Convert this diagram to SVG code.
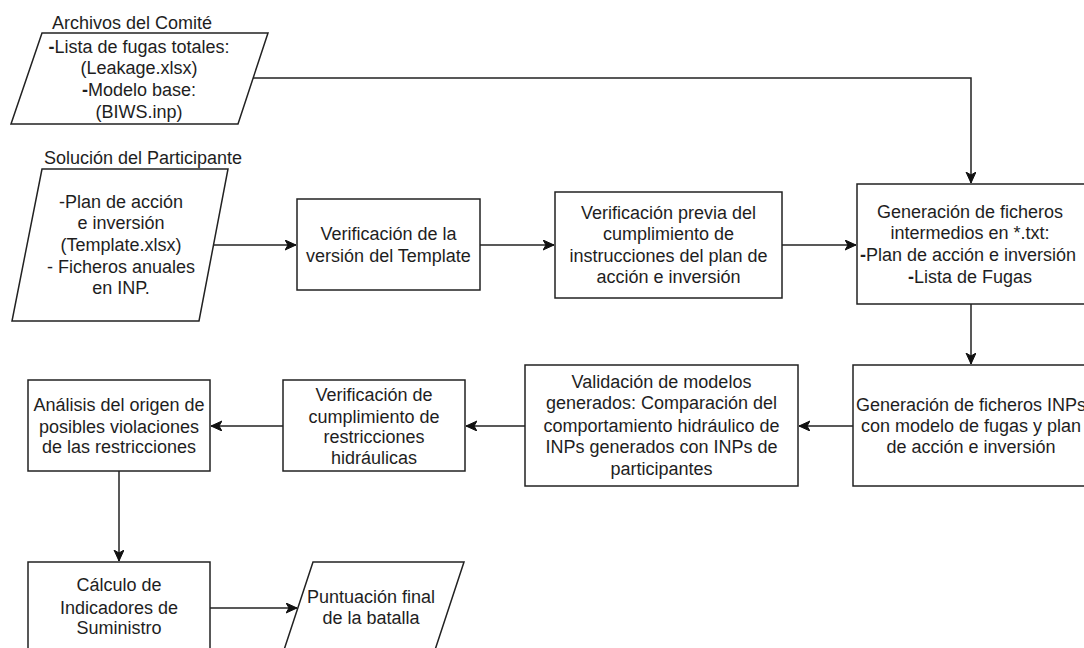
<svg xmlns="http://www.w3.org/2000/svg" width="1084" height="648" viewBox="0 0 1084 648">
<style>
.s{fill:#fff;stroke:#222;stroke-width:1.5}
.t{font-family:"Liberation Sans",Arial,sans-serif;font-size:18px;fill:#1e1e1e;text-anchor:middle}
.c{fill:none;stroke:#222;stroke-width:1.5}
.b{font-weight:bold}
</style>
<defs>
<marker id="ah" markerUnits="userSpaceOnUse" markerWidth="14" markerHeight="12" refX="11" refY="5" orient="auto">
<path d="M0,0 L11,5 L0,10 L3,5 Z" fill="#111" stroke="#111" stroke-width="1"/>
</marker>
</defs>
<rect width="1084" height="648" fill="#fff"/>
<g id="connectors">
<path class="c" d="M253,78 H971 V183" marker-end="url(#ah)"/>
<path class="c" d="M214,245 H296" marker-end="url(#ah)"/>
<path class="c" d="M480,245 H554" marker-end="url(#ah)"/>
<path class="c" d="M782,245 H856" marker-end="url(#ah)"/>
<path class="c" d="M971,304 V364" marker-end="url(#ah)"/>
<path class="c" d="M853,426 H799" marker-end="url(#ah)"/>
<path class="c" d="M525,426 H466" marker-end="url(#ah)"/>
<path class="c" d="M283,426 H211" marker-end="url(#ah)"/>
<path class="c" d="M119,471 V561" marker-end="url(#ah)"/>
<path class="c" d="M210,608 H297" marker-end="url(#ah)"/>
</g>
<g id="archivos">
<text class="t" x="132" y="29">Archivos del Comité</text>
<polygon class="s" points="42,33 268,33 238,124 11,124"/>
<text class="t" x="139" y="53"><tspan class="b">-</tspan>Lista de fugas totales:</text>
<text class="t" x="139" y="74">(Leakage.xlsx)</text>
<text class="t" x="139" y="96"><tspan class="b">-</tspan>Modelo base:</text>
<text class="t" x="139" y="118">(BIWS.inp)</text>
</g>
<g id="solucion">
<text class="t" x="143" y="164">Solución del Participante</text>
<polygon class="s" points="42,169 228,169 199,321 12,321"/>
<text class="t" x="121" y="208">-Plan de acción</text>
<text class="t" x="121" y="229">e inversión</text>
<text class="t" x="121" y="251">(Template.xlsx)</text>
<text class="t" x="121" y="273">- Ficheros anuales</text>
<text class="t" x="121" y="294">en INP.</text>
</g>
<g id="verif-template">
<rect class="s" x="297" y="199" width="183" height="91"/>
<text class="t" x="388.5" y="240">Verificación de la</text>
<text class="t" x="388.5" y="262">versión del Template</text>
</g>
<g id="verif-previa">
<rect class="s" x="555" y="192" width="227" height="106"/>
<text class="t" x="668.5" y="219">Verificación previa del</text>
<text class="t" x="668.5" y="240">cumplimiento de</text>
<text class="t" x="668.5" y="262">instrucciones del plan de</text>
<text class="t" x="668.5" y="283">acción e inversión</text>
</g>
<g id="generacion-txt">
<rect class="s" x="857" y="184" width="228" height="120"/>
<text class="t" x="970" y="218">Generación de ficheros</text>
<text class="t" x="970" y="239">intermedios en *.txt:</text>
<text class="t" x="968" y="261"><tspan class="b">-</tspan>Plan de acción e inversión</text>
<text class="t" x="970" y="283"><tspan class="b">-</tspan>Lista de Fugas</text>
</g>
<g id="generacion-inp">
<rect class="s" x="853" y="365" width="236" height="121"/>
<text class="t" x="971" y="411">Generación de ficheros INPs</text>
<text class="t" x="971" y="432">con modelo de fugas y plan</text>
<text class="t" x="971" y="453">de acción e inversión</text>
</g>
<g id="validacion">
<rect class="s" x="525" y="365" width="273" height="121"/>
<text class="t" x="661.5" y="388">Validación de modelos</text>
<text class="t" x="661.5" y="409">generados: Comparación del</text>
<text class="t" x="661.5" y="432">comportamiento hidráulico de</text>
<text class="t" x="661.5" y="453">INPs generados con INPs de</text>
<text class="t" x="661.5" y="475">participantes</text>
</g>
<g id="verif-restricciones">
<rect class="s" x="283" y="380" width="182" height="91"/>
<text class="t" x="374" y="401">Verificación de</text>
<text class="t" x="374" y="423">cumplimiento de</text>
<text class="t" x="374" y="443">restricciones</text>
<text class="t" x="374" y="464">hidráulicas</text>
</g>
<g id="analisis">
<rect class="s" x="28" y="380" width="182" height="91"/>
<text class="t" x="119" y="411">Análisis del origen de</text>
<text class="t" x="119" y="433">posibles violaciones</text>
<text class="t" x="119" y="453">de las restricciones</text>
</g>
<g id="calculo">
<rect class="s" x="28" y="562" width="182" height="91"/>
<text class="t" x="119" y="591">Cálculo de</text>
<text class="t" x="119" y="614">Indicadores de</text>
<text class="t" x="119" y="634">Suministro</text>
</g>
<g id="puntuacion">
<polygon class="s" points="313,562 464,562 434,653 283,653"/>
<text class="t" x="371" y="603">Puntuación final</text>
<text class="t" x="371" y="624">de la batalla</text>
</g>
</svg>
